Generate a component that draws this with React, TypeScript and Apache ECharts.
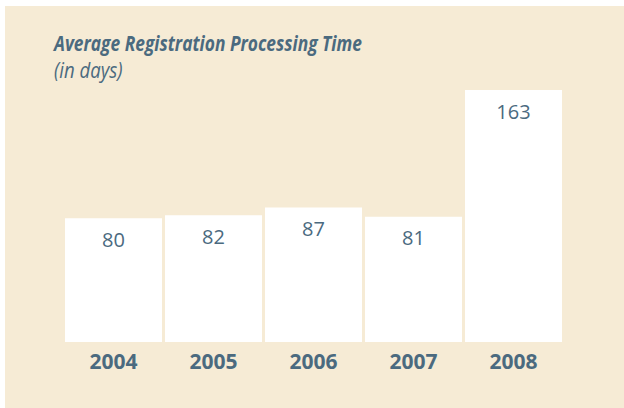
import React, { useEffect, useRef } from "react";
import * as echarts from "echarts";

const years = ["2004", "2005", "2006", "2007", "2008"];
const days = [80, 82, 87, 81, 163];
const titleText = "Average Registration Processing Time";
const subtitleText = "(in days)";

const TEXT = "#4b6a7f";
const BG = "#f6ebd5";

export default function App() {
  const ref = useRef<HTMLDivElement>(null);
  useEffect(() => {
    document.body.style.margin = "0";
    const chart = echarts.init(ref.current!, null, { renderer: "svg" });
    chart.setOption({
      animation: false,
      backgroundColor: "#ffffff",
      graphic: [
        { type: "rect", z: -10, shape: { x: 5, y: 6, width: 619, height: 402 }, style: { fill: BG } },
        {
          type: "text", x: 54, y: 32, scaleX: 0.79,
          style: {
            text: titleText, fill: TEXT, textVerticalAlign: "top",
            font: "italic bold 22px 'Open Sans', sans-serif",
          },
        },
        {
          type: "text", x: 54, y: 60, scaleX: 0.885,
          style: {
            text: subtitleText, fill: TEXT, textVerticalAlign: "top",
            font: "italic 21px 'Open Sans', sans-serif",
          },
        },
      ],
      grid: { left: 63.5, width: 500, top: 90, bottom: 66, containLabel: false },
      xAxis: {
        type: "category",
        data: years,
        axisLine: { show: false },
        axisTick: { show: false },
        axisLabel: { color: TEXT, fontSize: 21, fontWeight: "bold", fontFamily: "'Open Sans', sans-serif", margin: 8 },
      },
      yAxis: { type: "value", min: 0, max: 163, show: false, splitLine: { show: false } },
      series: [
        {
          type: "bar",
          data: days,
          barCategoryGap: "3%",
          itemStyle: { color: "#ffffff" },
          label: {
            show: true, position: "insideTop", distance: 11,
            color: TEXT, fontSize: 20, fontFamily: "'Open Sans', sans-serif",
          },
        },
      ],
    });
    return () => chart.dispose();
  }, []);
  return <div ref={ref} style={{ position: "absolute", left: 0, top: 0, width: 624, height: 408 }} />;
}
